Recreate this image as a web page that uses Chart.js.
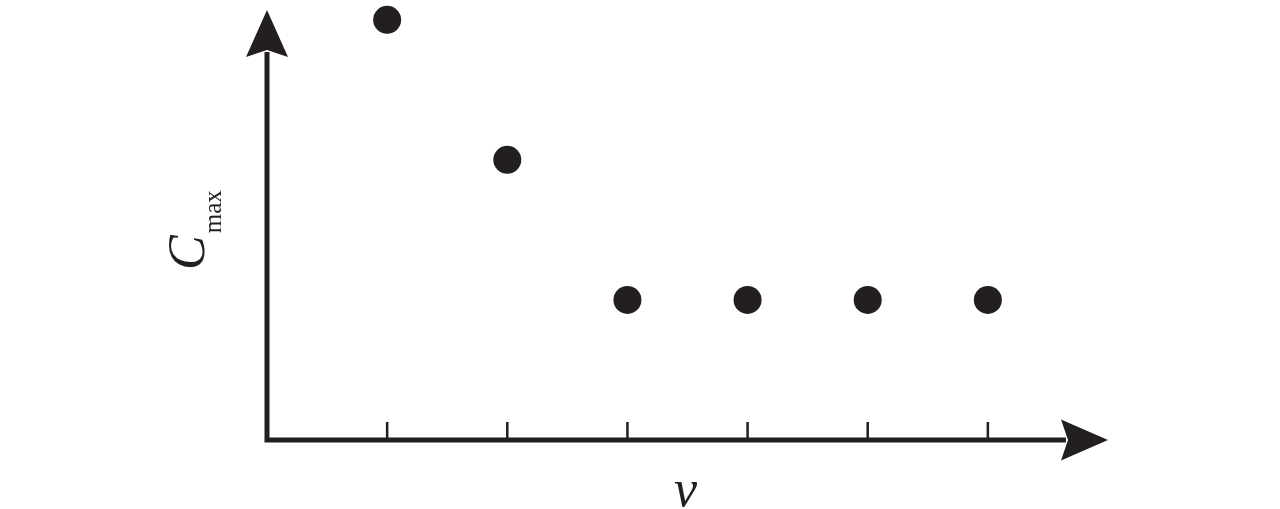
<!DOCTYPE html>
<html>
<head>
<meta charset="utf-8">
<script src="https://cdn.jsdelivr.net/npm/chart.js@4"></script>
<style>
  html, body { margin: 0; padding: 0; background: #fff; }
  #wrap { position: relative; width: 1280px; height: 509px; overflow: hidden; }
  canvas { position: absolute; left: 0; top: 0; }
  .lab { position: absolute; white-space: nowrap; color: #231f20;
         font-family: "Liberation Serif", "DejaVu Serif", serif; font-size: 52px; line-height: 52px; }
  #xlab { left: 674px; top: 463px; font-style: italic; }
  #ylab { left: 161px; top: 270px; transform-origin: 0 0; transform: rotate(-90deg); }
  #ylab i { font-style: italic; }
  #ylab sub { font-size: 25px; vertical-align: -17px; margin-left: 2px; }
</style>
</head>
<body>
<div id="wrap">
  <canvas id="grafica" width="1280" height="509"></canvas>
  <div class="lab" id="xlab">v</div>
  <div class="lab" id="ylab"><i>C</i><sub>max</sub></div>
</div>
<script>
const xValues = [1, 2, 3, 4, 5, 6];
const yValues = [3, 2, 1, 1, 1, 1];
const xTicks = [1, 2, 3, 4, 5, 6];

const ink = "#231f20";

// ejes con flechas y marcas hacia arriba
const ejes = {
  id: "ejes",
  beforeDatasetsDraw(chart) {
    const ctx = chart.ctx;
    const xs = chart.scales.x;
    const ys = chart.scales.y;
    const x0 = xs.getPixelForValue(0);
    const y0 = ys.getPixelForValue(0);
    const xEnd = xs.getPixelForValue(xs.max);
    const yEnd = ys.getPixelForValue(ys.max);
    ctx.save();
    ctx.strokeStyle = ink;
    ctx.fillStyle = ink;
    ctx.lineWidth = 5;
    ctx.beginPath();
    ctx.moveTo(x0, y0 + 2.5);
    ctx.lineTo(x0, yEnd + 42);
    ctx.moveTo(x0 - 2.5, y0);
    ctx.lineTo(xEnd - 42, y0);
    ctx.stroke();

    // flecha vertical
    ctx.beginPath();
    ctx.moveTo(x0, yEnd);
    ctx.lineTo(x0 - 21, yEnd + 47);
    ctx.lineTo(x0, yEnd + 40);
    ctx.lineTo(x0 + 21, yEnd + 47);
    ctx.closePath();
    ctx.fill();

    // flecha horizontal
    ctx.beginPath();
    ctx.moveTo(xEnd, y0);
    ctx.lineTo(xEnd - 47, y0 - 20.5);
    ctx.lineTo(xEnd - 40, y0);
    ctx.lineTo(xEnd - 47, y0 + 20.5);
    ctx.closePath();
    ctx.fill();

    ctx.lineWidth = 2.5;
    ctx.beginPath();
    xTicks.forEach((t) => {
      const px = xs.getPixelForValue(t);
      ctx.moveTo(px, y0);
      ctx.lineTo(px, y0 - 18);
    });
    ctx.stroke();
    ctx.restore();
  },
};

const ctx1 = document.getElementById("grafica").getContext("2d");
const chart1 = new Chart(ctx1, {
  type: "scatter",
  data: {
    datasets: [
      {
        data: xValues.map((x, i) => ({ x: x, y: yValues[i] })),
        backgroundColor: ink,
        borderColor: ink,
        borderWidth: 0,
        pointRadius: 14,
        pointHoverRadius: 14,
        clip: false,
      },
    ],
  },
  options: {
    responsive: false,
    animation: false,
    events: [],
    layout: { autoPadding: false, padding: { left: 267, right: 172, top: 10, bottom: 69 } },
    plugins: { legend: { display: false }, tooltip: { enabled: false } },
    scales: {
      x: { type: "linear", min: 0, max: 7, display: false },
      y: { type: "linear", min: 0, max: 3.07, display: false },
    },
  },
  plugins: [ejes],
});
</script>
</body>
</html>
